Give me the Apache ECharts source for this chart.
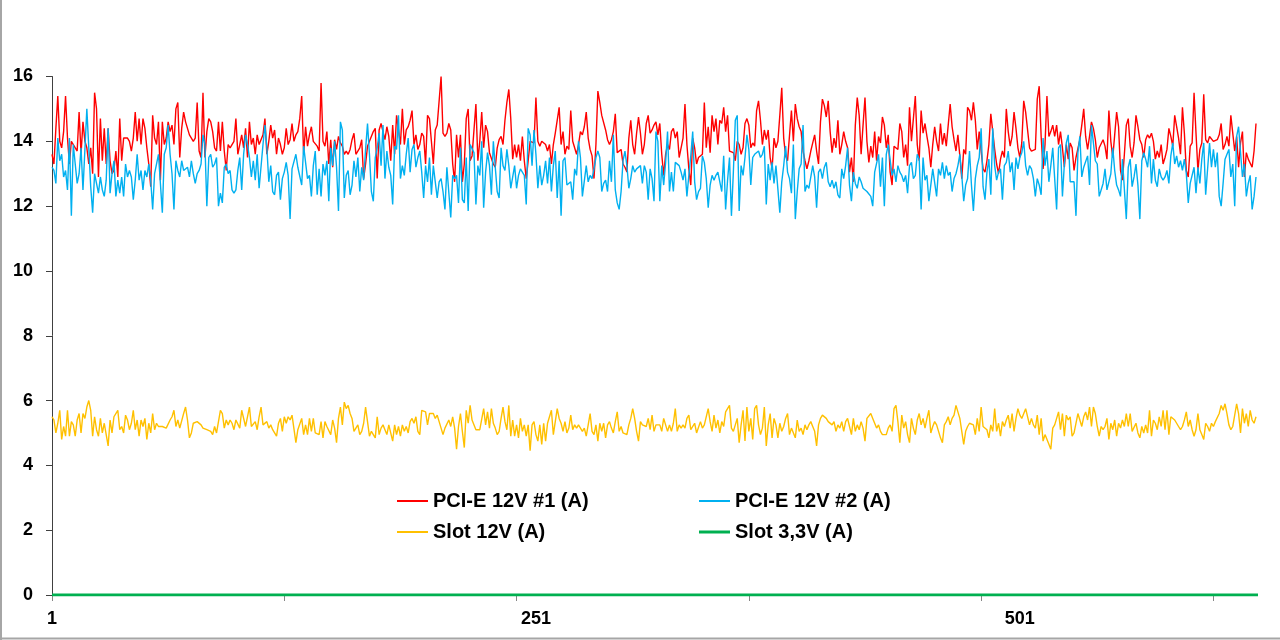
<!DOCTYPE html>
<html>
<head>
<meta charset="utf-8">
<script src="https://cdn.jsdelivr.net/npm/echarts@6/dist/echarts.min.js"></script>
<style>
  html, body { margin: 0; padding: 0; background: #fff; }
  #chart { width: 1280px; height: 640px; }
</style>
</head>
<body>
<div id="chart"></div>
<script>
// PCI-E 12V #1 (A)
const pciE1 = [
  13.6,13.3,14.4,15.4,14.0,13.8,14.3,15.4,14.1,13.3,
  14.0,13.9,13.8,13.7,14.9,13.6,14.6,14.0,13.8,13.3,
  13.8,13.0,15.5,15.0,12.9,14.7,13.4,14.4,13.3,14.4,
  13.4,13.0,13.1,13.7,12.9,14.7,13.4,14.1,14.1,14.1,
  14.0,13.7,14.1,14.9,14.0,14.7,13.9,14.7,14.4,13.8,
  13.3,12.6,14.8,14.1,13.9,14.6,12.8,14.6,13.9,14.1,
  14.6,14.3,14.5,13.9,15.0,15.2,13.5,14.4,14.9,14.6,
  14.6,14.2,14.1,14.0,14.1,15.2,13.7,13.5,15.5,13.5,
  14.3,14.7,14.6,14.3,13.8,13.7,14.6,13.7,14.6,13.7,
  13.1,13.9,13.8,13.9,14.0,14.7,13.6,13.9,14.2,13.8,
  14.4,13.5,14.6,13.9,14.1,13.6,14.2,13.9,
  13.9,14.2,14.7,13.6,14.0,14.5,14.1,14.35,13.6,14.1,
  13.9,13.6,13.8,14.4,13.9,14.05,14.55,14.0,14.2,14.3,
  14.7,15.4,13.6,14.45,13.85,
  14.2,14.45,14.0,14.0,13.85,13.7,15.8,14.0,13.85,14.3,
  13.3,14.05,13.2,14.05,13.75,14.15,13.95,13.85,13.6,13.7,
  13.6,13.75,14.05,14.25,13.6,13.6,13.8,14.05,12.85,13.3,
  13.85,14.0,14.05,14.3,14.4,12.85,14.35,14.55,14.3,14.05,
  14.45,14.15,13.4,14.5,13.6,14.8,14.35,13.9,15.0,13.9,
  14.35,14.45,14.65,14.95,13.9,14.2,13.75,13.9,14.25,14.15,
  13.3,14.8,14.7,14.0,13.3,14.35,14.5,14.45,16.0,14.25,
  14.15,14.25,14.55,14.35,13.3,12.75,14.2,13.5,
  14.2,12.75,13.3,14.7,15.0,13.4,13.55,13.6,15.15,13.4,
  14.0,14.9,13.8,14.5,14.3,13.65,13.7,13.3,13.2,13.8,
  14.05,14.15,13.9,14.65,15.2,15.6,14.7,13.45,13.9,13.5,
  13.9,13.4,14.15,13.4,12.85,13.4,14.0,14.05,13.95,15.35,
  14.0,13.85,14.0,13.95,13.9,13.7,13.9,13.3,13.9,14.25,
  14.3,15.05,13.9,14.3,13.6,13.85,13.75,14.95,14.0,13.95,
  13.6,13.9,14.3,14.2,14.45,14.9,14.1,13.75,13.55,12.85,
  13.9,15.55,15.2,14.8,14.85,14.35,14.05,13.9,14.05,14.3,
  14.85,13.65,13.6,13.75,13.3,13.2,13.05,14.1,14.65,13.9,
  13.6,14.25,14.75,14.25,13.6,13.9,14.55,14.8,14.25,14.35,
  14.5,14.6,14.2,
  14.55,13.6,12.95,13.6,13.9,13.75,14.3,14.4,14.1,14.3,
  13.5,13.45,14.1,15.15,13.9,13.15,12.65,14.1,13.8,13.3,
  13.5,13.55,13.6,15.2,13.8,14.45,13.65,14.8,14.3,14.7,
  13.9,14.65,14.55,15.05,14.3,14.8,13.7,13.75,13.65,13.4,
  14.0,13.9,13.6,13.8,14.55,14.7,14.5,13.8,13.95,13.85,
  14.95,15.25,14.65,13.9,14.35,14.05,14.35,13.5,13.15,14.1,
  13.8,14.0,14.8,15.65,14.1,13.55,13.4,13.45,14.95,14.0,
  15.15,14.7,14.45,14.3,13.7,13.4,13.15,13.4,13.7,13.95,
  14.2,13.7,13.3,14.6,15.3,15.1,14.75,15.25,14.3,13.65,
  14.1,13.8,14.65,13.6,13.9,14.3,14.0,13.8,13.05,13.5,
  12.75,14.5,15.35,14.8,
  13.6,14.5,15.35,14.0,13.35,13.85,13.5,14.3,13.4,14.15,
  13.95,14.75,14.5,13.8,14.2,13.05,12.65,13.85,13.9,13.75,
  14.55,14.3,13.5,13.9,13.25,15.05,14.0,14.05,15.4,13.9,
  13.4,14.95,14.25,14.55,14.15,13.8,13.2,13.9,14.45,14.0,
  13.7,14.55,13.9,14.25,13.85,13.8,15.15,14.45,14.05,13.7,
  14.2,13.55,12.85,13.75,13.6,15.05,14.95,14.65,15.2,14.65,
  13.75,14.3,13.7,13.15,13.05,13.4,13.9,14.85,14.3,13.75,
  13.3,13.0,13.45,13.7,13.5,15.0,14.3,13.85,14.15,14.9,
  14.4,13.8,13.5,13.95,15.25,14.9,14.95,13.8,13.7,13.75,
  13.75,15.3,15.7,14.15,13.15,13.9,15.4,14.15,14.3,14.5,
  14.15,14.5,13.9,
  14.3,13.8,13.2,13.9,13.45,13.95,13.8,13.1,13.5,13.5,
  14.05,14.5,15.0,14.15,13.75,14.15,14.6,14.4,14.05,13.5,
  13.8,13.75,14.05,13.85,13.45,14.95,14.0,13.5,14.2,14.9,
  14.45,13.1,12.8,13.6,14.5,14.7,13.85,13.5,13.95,14.8,
  14.45,14.05,13.9,13.5,14.05,14.2,14.1,14.25,14.0,13.45,
  13.7,13.5,13.9,13.3,13.5,13.75,14.4,14.15,13.85,14.8,
  14.45,14.1,13.6,15.05,14.25,13.1,12.9,13.85,13.95,15.5,
  14.25,13.1,13.75,13.95,15.45,14.05,13.95,14.15,14.1,14.0,
  14.0,14.05,14.2,14.55,13.75,13.9,14.15,13.85,14.8,14.85,
  13.7,14.15,13.2,13.95,14.3,12.9,13.65,13.45,13.5,13.2,
  13.7,14.55
];

// PCI-E 12V #2 (A)
const pciE2 = [
  13.2,
  13.1,12.7,14.1,13.4,13.6,12.9,13.1,12.5,14.1,11.7,
  13.9,13.3,12.7,13.0,13.8,12.5,12.5,15.0,13.8,12.6,
  11.8,13.0,12.7,12.4,12.9,12.5,12.3,12.8,14.4,12.4,
  13.0,13.4,12.3,12.8,12.4,12.9,12.3,13.3,12.9,13.1,
  12.9,12.2,12.8,13.6,12.8,13.1,12.5,13.1,12.9,13.3,
  12.8,11.9,13.0,13.0,13.6,13.6,11.8,13.6,13.8,14.5,
  13.6,13.0,11.9,13.4,13.1,12.9,13.4,13.1,13.1,13.2,
  12.9,13.4,13.0,12.7,13.0,13.1,13.3,14.2,13.9,12.0,
  13.5,13.6,13.2,13.3,13.5,12.0,12.4,12.1,13.2,13.3,
  13.0,13.1,12.5,12.4,12.5,13.1,13.5,12.5,13.6,14.2,
  13.9,
  13.5,12.9,13.4,12.8,13.6,12.55,
  12.55,13.9,14.5,13.8,12.75,13.25,12.45,12.35,12.95,13.05,
  12.2,12.85,13.05,13.35,12.95,11.6,13.15,13.1,13.6,13.2,
  13.2,12.65,13.85,13.8,12.85,12.95,12.3,13.25,13.7,12.35,
  13.15,12.3,13.3,12.95,13.4,12.15,13.8,13.25,14.0,13.2,
  11.85,14.6,14.35,12.25,12.95,13.1,12.35,12.65,13.4,12.9,
  13.5,12.45,13.2,12.8,13.75,14.55,13.6,12.45,12.15,13.5,
  13.8,14.25,13.25,14.5,12.85,13.7,13.2,12.95,12.05,13.85,
  13.75,14.8,12.85,13.25,12.95,13.6,14.1,13.05,13.75,13.9,
  13.2,13.5,13.7,13.05,12.25,13.25,12.75,13.5,12.35,13.25,
  12.75,12.25,12.75,12.85,12.45,11.9,13.2,13.2,11.65,12.95,
  12.85,12.95,12.1,
  13.8,12.2,12.1,13.5,11.85,13.9,13.95,13.65,12.05,13.25,
  12.95,14.0,11.95,13.05,13.65,13.25,12.35,14.0,13.2,12.45,
  12.25,13.8,13.25,13.1,13.75,13.25,12.55,12.9,13.25,12.55,
  12.95,13.15,13.2,12.95,12.05,14.4,14.2,13.25,14.35,13.6,
  12.55,13.25,12.65,12.95,13.4,12.7,13.5,12.45,13.25,13.7,
  12.25,13.4,11.7,13.4,13.5,12.65,12.7,12.75,12.2,13.15,
  12.95,14.0,13.5,12.3,12.35,13.25,12.75,12.95,12.85,13.15,
  13.5,13.7,13.5,12.45,12.7,12.8,12.45,13.4,12.75,14.2,
  12.5,12.1,11.9,12.45,13.4,13.7,13.25,12.55,12.85,13.25,
  13.05,13.15,13.1,13.25,12.7,13.25,13.05,12.2,13.15,12.85,
  12.15,14.3,14.0,
  12.15,13.25,12.65,13.35,14.3,12.45,13.05,12.45,13.35,13.3,
  13.25,13.05,12.8,13.15,12.3,12.95,13.55,14.3,12.75,12.2,
  12.45,12.55,13.55,13.35,12.85,11.95,12.65,12.95,12.8,12.95,
  13.05,12.75,12.45,13.55,11.9,12.8,13.5,11.7,13.05,14.65,
  14.8,11.85,13.25,12.95,13.5,14.2,13.75,12.65,13.5,13.6,
  13.55,13.7,13.5,13.6,13.85,12.05,13.3,12.8,13.35,12.7,
  13.25,13.25,11.8,12.75,13.25,13.85,13.05,12.85,12.4,13.9,
  11.6,12.45,13.15,13.3,14.5,12.45,12.65,12.55,12.5,13.25,
  12.9,11.95,13.05,13.15,12.85,13.2,13.35,12.75,12.6,12.8,
  12.55,12.75,12.35,12.25,13.15,12.85,13.25,13.8,12.65,12.15,
  13.05,12.7,12.55,12.9,
  12.75,12.55,12.5,12.45,12.4,12.3,12.0,13.05,13.0,13.6,
  12.6,13.5,12.0,13.6,13.9,13.95,12.95,13.15,12.75,13.25,
  13.05,12.95,12.75,12.95,12.4,13.25,13.35,12.85,12.95,13.6,
  13.45,11.9,13.5,12.8,12.95,12.15,12.65,13.15,13.1,12.3,
  13.15,12.95,13.35,12.85,13.25,12.95,13.05,12.45,12.85,13.0,
  13.25,13.6,12.95,12.15,12.65,12.85,13.7,12.65,11.85,12.85,
  13.25,13.5,14.4,12.6,12.2,13.05,13.45,12.35,14.4,13.25,
  12.8,13.05,13.15,12.2,13.25,13.35,13.7,13.05,13.35,12.5,
  13.5,13.15,13.5,13.65,14.0,13.25,12.95,13.25,13.15,12.85,
  12.3,12.85,12.65,12.35,14.1,13.25,13.7,12.75,13.25,13.8,
  13.85,11.9,13.8,
  13.9,12.3,13.3,13.95,14.2,12.75,12.7,12.75,11.7,13.65,
  14.15,12.9,13.2,13.2,13.55,12.65,14.5,13.95,13.4,13.3,
  12.3,12.25,12.7,13.15,12.5,12.5,13.0,13.8,13.1,12.65,
  12.5,12.3,13.45,13.45,11.6,13.2,13.45,12.6,12.9,13.3,
  12.65,11.6,13.4,13.65,13.45,13.2,13.85,12.7,13.45,12.8,
  12.6,13.15,12.9,12.8,12.9,13.1,12.7,13.55,13.95,13.3,
  13.55,13.2,13.4,13.1,13.45,13.0,12.1,12.7,12.65,13.2,
  12.4,13.2,12.7,13.45,13.95,12.35,12.4,13.95,13.2,13.75,
  13.2,13.65,12.3,12.0,12.7,13.45,13.6,13.75,12.9,13.3,
  12.0,14.15,14.45,14.4,12.9,13.3,12.3,12.7,12.95,11.9,
  12.3,12.9
];

// Slot 12V (A)
const slot12 = [
  5.5,
  5.4,5.0,5.3,5.7,4.8,5.2,4.9,5.7,4.9,5.35,
  5.25,4.9,5.4,5.6,5.0,5.6,5.45,5.8,6.0,5.7,
  4.9,5.5,5.1,4.9,5.45,5.0,5.3,4.95,4.6,5.4,
  5.0,5.5,5.55,5.7,5.1,5.2,5.0,5.55,5.4,5.1,
  5.3,5.7,5.1,5.4,4.9,5.4,5.2,5.45,4.8,5.3,
  5.0,5.6,5.1,5.3,5.2,5.25,5.2,5.25,5.15,5.1,
  5.4,5.5,5.7,5.2,5.4,5.15,5.1,5.6,5.8,5.4,
  4.85,5.0,5.3,5.25,5.35,5.3,5.25,5.15,5.2,5.1,
  5.15,5.05,4.95,5.2,5.0,5.35,5.7,5.6,5.15,5.4,
  5.25,5.4,5.3,5.1,5.4,5.35,5.15,5.7,5.75,5.2,
  5.2,5.8,5.2,5.25,
  5.35,5.1,5.5,
  5.8,5.25,5.2,5.35,5.15,5.25,5.1,5.05,4.9,5.3,
  5.45,5.05,5.5,5.3,5.5,5.4,5.55,5.6,4.7,5.1,
  5.1,5.45,4.95,5.25,4.95,5.45,5.05,5.45,5.0,5.05,
  4.95,5.35,4.85,5.35,5.2,5.25,4.95,5.4,5.15,4.7,
  5.45,5.8,5.25,5.95,5.75,5.85,5.6,5.45,5.05,5.1,
  5.25,4.95,5.05,5.3,5.8,5.35,4.9,5.05,4.95,4.85,
  5.5,4.95,5.15,5.25,5.1,4.95,5.25,5.2,4.75,5.25,
  4.95,5.2,4.9,5.25,5.05,5.2,5.0,5.35,5.45,5.3,
  5.5,5.05,4.95,5.7,5.75,5.65,5.25,5.6,5.55,5.6,
  5.45,5.55,5.35,5.15,4.95,5.15,5.2,5.4,5.2,5.5,
  5.15,4.5,5.2,
  5.6,5.05,4.55,5.7,5.3,5.85,5.4,5.35,5.1,5.1,
  5.1,5.1,5.75,5.25,5.65,5.15,5.75,5.3,5.15,4.95,
  5.05,5.45,5.8,5.35,5.1,5.85,4.9,5.4,4.9,5.25,
  4.85,5.45,5.05,5.25,4.9,5.25,4.45,5.25,5.35,4.95,
  4.75,5.25,4.65,5.3,4.75,5.3,5.5,5.7,4.95,5.35,
  5.75,5.45,5.3,5.05,5.35,5.0,5.15,5.55,5.1,5.25,
  5.15,5.25,5.2,5.05,5.15,4.9,5.25,5.6,5.05,4.95,
  5.25,4.75,5.3,5.05,5.3,4.85,5.25,5.35,5.15,5.0,
  5.35,5.65,5.05,5.2,5.0,5.05,4.95,5.25,5.45,5.75,
  5.45,5.05,4.75,5.35,5.25,5.3,5.2,5.45,5.1,5.55,
  5.05,5.25,5.3,
  5.25,5.05,5.45,5.25,5.05,5.25,5.05,5.3,5.75,5.05,
  5.25,5.15,5.25,5.15,5.45,5.55,5.1,5.15,5.3,5.0,
  4.95,5.35,5.15,5.25,5.2,5.75,5.35,5.05,5.55,5.15,
  5.4,5.0,5.35,5.2,5.65,5.75,5.85,5.15,5.05,5.25,
  5.45,4.7,5.25,5.7,4.75,5.8,5.05,5.45,4.8,5.75,
  5.85,5.25,4.95,5.15,5.8,4.6,5.25,5.6,4.85,5.45,
  5.25,4.85,5.3,5.05,5.2,5.45,5.6,4.95,5.15,5.2,
  4.85,5.4,5.05,5.15,4.95,5.25,5.1,5.25,5.35,5.2,
  5.05,4.6,5.25,5.45,5.55,5.6,5.45,5.35,5.3,5.25,
  5.35,5.05,5.25,5.15,5.35,5.05,5.35,5.45,5.2,4.95,
  5.45,5.05,5.25,5.1,
  5.35,5.15,4.75,5.45,5.45,5.6,5.45,5.4,5.15,5.25,
  5.05,4.95,4.9,4.95,5.15,5.25,5.05,5.75,5.85,5.35,
  4.7,5.55,5.15,5.35,4.95,4.7,5.45,5.15,4.95,5.4,
  5.6,5.25,5.45,5.15,5.45,5.7,5.0,5.2,5.35,5.25,
  5.05,4.85,4.7,5.25,5.35,5.5,5.25,5.45,5.55,5.85,
  5.9,5.45,5.05,4.65,5.05,5.2,5.3,5.35,5.25,4.95,
  5.45,5.05,5.8,5.2,5.15,5.1,4.85,5.25,5.05,5.75,
  5.05,5.3,4.9,5.35,5.2,5.4,5.55,5.15,5.6,5.05,
  5.45,5.75,5.55,5.45,5.45,5.75,5.7,5.25,5.45,5.25,
  5.15,5.55,4.95,5.45,4.75,4.95,5.0,4.65,4.5,5.15,
  5.25,5.3,5.65,
  5.1,5.6,4.9,5.55,5.4,5.5,4.9,5.0,4.95,5.6,
  5.6,5.2,5.5,5.65,5.4,5.8,5.2,5.8,5.6,5.2,
  4.9,5.2,5.1,5.2,5.45,4.8,5.3,5.1,5.4,4.9,
  5.3,5.15,5.4,5.2,5.6,5.2,5.6,5.05,5.1,5.3,
  5.0,4.85,5.2,5.0,5.25,5.0,5.7,4.9,5.4,5.3,
  5.1,5.5,5.2,5.7,5.1,5.7,4.95,5.5,5.45,5.4,
  5.45,5.2,5.1,5.2,5.4,5.65,5.2,5.4,5.1,4.9,
  5.1,5.6,5.1,4.95,4.8,5.3,5.2,5.05,5.3,5.2,
  5.35,5.3,5.6,5.85,5.7,5.9,5.6,5.25,5.1,5.2,
  5.2,5.9,5.6,5.0,5.75,5.3,5.6,5.2,5.7,5.4,
  5.3,5.5
];

// Slot 3,3V (A) - flat on zero for the whole run
const slot33 = [
  0,0,0,0,0,0,0,0,0,0,0,0,0,0,0,0,0,0,0,0,0,0,0,0,0,0,0,0,0,0,0,0,0,0,0,0,0,0,0,0,
  0,0,0,0,0,0,0,0,0,0,0,0,0,0,0,0,0,0,0,0,0,0,0,0,0,0,0,0,0,0,0,0,0,0,0,0,0,0,0,0,
  0,0,0,0,0,0,0,0,0,0,0,0,0,0,0,0,0,0,0,0,0,0,0,0,0,0,0,0,0,0,0,0,0,0,0,0,0,0,0,0,
  0,0,0,0,0,0,0,0,0,0,0,0,0,0,0,0,0,0,0,0,0,0,0,0,0,0,0,0,0,0,0,0,0,0,0,0,0,0,0,0,
  0,0,0,0,0,0,0,0,0,0,0,0,0,0,0,0,0,0,0,0,0,0,0,0,0,0,0,0,0,0,0,0,0,0,0,0,0,0,0,0,
  0,0,0,0,0,0,0,0,0,0,0,0,0,0,0,0,0,0,0,0,0,0,0,0,0,0,0,0,0,0,0,0,0,0,0,0,0,0,0,0,
  0,0,0,0,0,0,0,0,0,0,0,0,0,0,0,0,0,0,0,0,0,0,0,0,0,0,0,0,0,0,0,0,0,0,0,0,0,0,0,0,
  0,0,0,0,0,0,0,0,0,0,0,0,0,0,0,0,0,0,0,0,0,0,0,0,0,0,0,0,0,0,0,0,0,0,0,0,0,0,0,0,
  0,0,0,0,0,0,0,0,0,0,0,0,0,0,0,0,0,0,0,0,0,0,0,0,0,0,0,0,0,0,0,0,0,0,0,0,0,0,0,0,
  0,0,0,0,0,0,0,0,0,0,0,0,0,0,0,0,0,0,0,0,0,0,0,0,0,0,0,0,0,0,0,0,0,0,0,0,0,0,0,0,
  0,0,0,0,0,0,0,0,0,0,0,0,0,0,0,0,0,0,0,0,0,0,0,0,0,0,0,0,0,0,0,0,0,0,0,0,0,0,0,0,
  0,0,0,0,0,0,0,0,0,0,0,0,0,0,0,0,0,0,0,0,0,0,0,0,0,0,0,0,0,0,0,0,0,0,0,0,0,0,0,0,
  0,0,0,0,0,0,0,0,0,0,0,0,0,0,0,0,0,0,0,0,0,0,0,0,0,0,0,0,0,0,0,0,0,0,0,0,0,0,0,0,
  0,0,0,0,0,0,0,0,0,0,0,0,0,0,0,0,0,0,0,0,0,0,0,0,0,0,0,0,0,0,0,0,0,0,0,0,0,0,0,0,
  0,0,0,0,0,0,0,0,0,0,0,0,0,0,0,0,0,0,0,0,0,0,0,0,0,0,0,0,0,0,0,0,0,0,0,0,0,0,0,0,
  0,0,0,0,0,0,0,0,0,0,0,0,0,0,0,0,0,0,0,0,0,0,0,0,0,0,0,0,0,0,0,0,0,0,0,0,0,0,0,0
];

const seriesNames = ['PCI-E 12V #1 (A)', 'PCI-E 12V #2 (A)', 'Slot 12V (A)', 'Slot 3,3V (A)'];
const seriesColors = ['#FF0000', '#00B0F0', '#FFC000', '#00B050'];
const yTicks = [0, 2, 4, 6, 8, 10, 12, 14, 16];

// sample numbers on the x axis: 1, 2, 3 ...
const categories = pciE1.map((_, i) => String(i + 1));

const chart = echarts.init(document.getElementById('chart'), null, { renderer: 'canvas' });

const fontFamily = '"Liberation Sans", Arial, sans-serif';

function legendAt(name, left, top, lineHeight) {
  return {
    data: [name],
    left: left,
    top: top,
    icon: 'rect',
    itemWidth: 31,
    itemHeight: lineHeight,
    padding: 0,
    selectedMode: false,
    textStyle: { fontFamily: fontFamily, fontSize: 20, fontWeight: 'bold', color: '#000' },
  };
}

const option = {
  animation: false,
  backgroundColor: '#fff',
  grid: { left: 52, right: 24, top: 76.5, bottom: 45, containLabel: false },
  legend: [
    legendAt(seriesNames[0], 397, 491, 2),
    legendAt(seriesNames[1], 699, 491, 2),
    legendAt(seriesNames[2], 397, 522, 2),
    legendAt(seriesNames[3], 699, 522, 3),
  ],
  xAxis: {
    type: 'category',
    data: categories,
    boundaryGap: false,
    axisLine: { show: true, lineStyle: { color: '#868686', width: 1 } },
    axisTick: { show: true, interval: 119, length: 6, lineStyle: { color: '#868686' } },
    axisLabel: {
      interval: 249,
      margin: 15,
      fontFamily: fontFamily,
      fontSize: 18,
      fontWeight: 'bold',
      color: '#000',
    },
    splitLine: { show: false },
  },
  yAxis: {
    type: 'value',
    min: yTicks[0],
    max: yTicks[yTicks.length - 1],
    interval: 2,
    axisLine: { show: true, lineStyle: { color: '#404040', width: 1 } },
    axisTick: { show: true, length: 6, lineStyle: { color: '#404040' } },
    axisLabel: {
      margin: 19,
      fontFamily: fontFamily,
      fontSize: 18,
      fontWeight: 'bold',
      color: '#000',
    },
    splitLine: { show: false },
  },
  series: [
    { name: seriesNames[0], data: pciE1, width: 1.4 },
    { name: seriesNames[1], data: pciE2, width: 1.4 },
    { name: seriesNames[2], data: slot12, width: 1.4 },
    { name: seriesNames[3], data: slot33, width: 3 },
  ].map((s, i) => ({
    name: s.name,
    type: 'line',
    data: s.data,
    symbol: 'none',
    clip: true,
    color: seriesColors[i],
    lineStyle: { color: seriesColors[i], width: s.width },
  })),
  // frame edges left over from the original chart box
  graphic: [
    { type: 'line', shape: { x1: 1, y1: 0, x2: 1, y2: 640 }, style: { stroke: '#a6a6a6', lineWidth: 2 } },
    { type: 'line', shape: { x1: 0, y1: 638.5, x2: 1280, y2: 638.5 }, style: { stroke: '#a6a6a6', lineWidth: 2 } },
  ],
};

chart.setOption(option);
</script>
</body>
</html>
